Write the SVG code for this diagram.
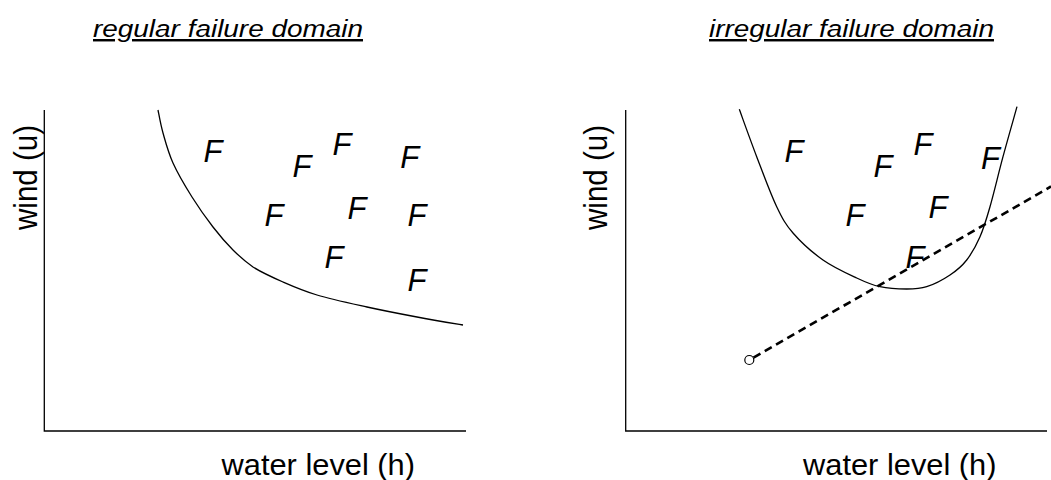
<svg xmlns="http://www.w3.org/2000/svg" width="1051" height="480" viewBox="0 0 1051 480">
<style>
.ax{stroke:#000;stroke-width:1.3;fill:none}
.crv{stroke:#000;stroke-width:1.3;fill:none}
.dash{stroke:#000;stroke-width:2.6;fill:none;stroke-dasharray:8 5}
.t{font-family:"Liberation Sans",Arial,sans-serif;fill:#000}
.title{font-size:24.5px;font-style:italic;text-decoration:underline}
.lab{font-size:29px}
.f{font-family:"Liberation Sans",Arial,sans-serif;font-size:31px;font-style:italic;fill:#000}
</style>
<rect width="1051" height="480" fill="#fff"/>
<g id="left-panel">
  <text class="t title" x="93" y="37" textLength="270" lengthAdjust="spacingAndGlyphs">regular failure domain</text>
  <g id="left-axes"><path class="ax" d="M44.3,110 V431 H466"/></g>
  <text class="t lab" x="221.5" y="475" textLength="193.5" lengthAdjust="spacingAndGlyphs">water level (h)</text>
  <text class="t lab" transform="translate(37,177.5) rotate(-90) scale(1,1.12)" x="0" y="0" text-anchor="middle" font-size="30" textLength="105" lengthAdjust="spacingAndGlyphs">wind (u)</text>
  <path id="left-curve" class="crv" d="M158,110 C158.8,113.8 160.5,124.2 163,133 C165.5,141.8 168.2,152.3 173,163 C177.8,173.7 185.3,186.3 192,197 C198.7,207.7 206.2,218.2 213,227 C219.8,235.8 226.3,243.3 233,250 C239.7,256.7 246,262 253,267 C261.3,272.3 272.3,277.3 283,282 C293.7,286.7 303,290.8 317,295 C331,299.2 350.3,303.3 367,307 C383.7,310.7 401,314 417,317 C433,320 455.3,323.7 463,325"/>
  <g id="left-F">
    <text class="f" x="203.5" y="161.7">F</text>
    <text class="f" x="292.5" y="177">F</text>
    <text class="f" x="332.5" y="155">F</text>
    <text class="f" x="400.2" y="168">F</text>
    <text class="f" x="264.5" y="226">F</text>
    <text class="f" x="347.5" y="219">F</text>
    <text class="f" x="407.5" y="226">F</text>
    <text class="f" x="324.5" y="268">F</text>
    <text class="f" x="407.5" y="290.5">F</text>
  </g>
</g>
<g id="right-panel">
  <text class="t title" x="709" y="37" textLength="285" lengthAdjust="spacingAndGlyphs">irregular failure domain</text>
  <g id="right-axes"><path class="ax" d="M625.7,110 V431 H1047"/></g>
  <text class="t lab" x="803" y="475" textLength="193.5" lengthAdjust="spacingAndGlyphs">water level (h)</text>
  <text class="t lab" transform="translate(607,177.5) rotate(-90) scale(1,1.12)" x="0" y="0" text-anchor="middle" font-size="30" textLength="105" lengthAdjust="spacingAndGlyphs">wind (u)</text>
  <path id="right-curve" class="crv" d="M739.3,109.3 C742.2,117.2 750.5,140.5 756.7,156.7 C762.9,172.9 770.6,194 776.7,206.7 C782.8,219.4 785.3,224.1 793,233 C800.7,241.9 812.4,252.5 823,260 C833.6,267.5 847.2,273.6 856.7,278 C866.2,282.5 871.7,284.9 880,286.7 C888.3,288.5 898.9,289 906.7,289 C914.5,289 919.5,289 926.7,286.7 C933.9,284.4 943.3,279.5 950,275 C956.7,270.6 961.7,266.4 966.7,260 C971.7,253.6 976.1,245.6 980,236.7 C983.9,227.8 986.2,220 990,206.7 C993.8,193.4 998.5,173.4 1003,156.7 C1007.5,140 1014.7,115 1017,106.7"/>
  <g id="right-F">
    <text class="f" x="784.5" y="162">F</text>
    <text class="f" x="873.5" y="177">F</text>
    <text class="f" x="913.5" y="155">F</text>
    <text class="f" x="981" y="169">F</text>
    <text class="f" x="845.5" y="226">F</text>
    <text class="f" x="928.5" y="218">F</text>
    <text class="f" x="905.5" y="268">F</text>
  </g>
</g>
<g id="connectors">
  <path class="dash" d="M753.5,357.6 L1051,186.5"/>
  <circle id="start-point" cx="749.3" cy="360" r="4.5" fill="#fff" stroke="#000" stroke-width="1.2"/>
</g>
</svg>
